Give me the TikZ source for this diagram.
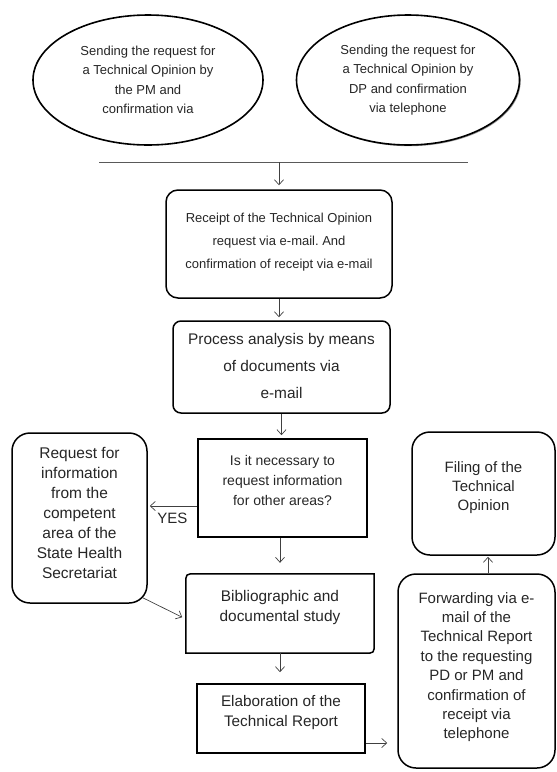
\documentclass[tikz,border=0pt]{standalone}
\usepackage{fontspec}
\setmainfont{Liberation Sans}
\usetikzlibrary{arrows.meta,shapes.geometric,shadows}

\begin{document}
\begin{tikzpicture}[x=1pt,y=-1pt,
    fs/.style 2 args={font=\fontsize{#1}{#2}\selectfont},
    wh/.style 2 args={minimum width=#1,minimum height=#2},
    oval/.style={ellipse,draw,line width=1.6pt,fill=white,inner sep=0pt,align=center,text=black!85,fs={13}{19.5}},
    rbox/.style={rectangle,draw,line width=1.5pt,rounded corners=#1,inner sep=0pt,align=center,text=black!85},
    sbox/.style={rectangle,draw,line width=1.6pt,inner sep=0pt,align=center,text=black!85},
    flow/.style={draw=black!75,line width=0.7pt,-{Straight Barb[length=5pt,width=9pt]}}]
\useasboundingbox (0,0) rectangle (557,772);
\node[oval,wh={230pt}{130pt}] (pmreq) at (148,80) {Sending the request for\\a Technical Opinion by\\the PM and\\confirmation via};
\node[oval,wh={223pt}{130pt},drop shadow={shadow xshift=1.2pt,shadow yshift=-1.2pt,fill=black!80}] (dpreq) at (408,80) {Sending the request for\\a Technical Opinion by\\DP and confirmation\\via telephone};
\coordinate (barW) at (99,162);
\coordinate (barE) at (468,162);
\coordinate (barM) at (279,162);
\draw[black!65,line width=0.8pt] (barW) -- (barE);
\node[rbox=12pt,fs={13}{23},wh={226pt}{108pt},text depth=6.6pt] (receipt) at (279,244) {Receipt of the Technical Opinion\\request via e-mail.\ And\\confirmation of receipt via e-mail};
\node[rbox=8pt,fs={15.4}{27},wh={217pt}{92pt},text depth=3pt] (process) at (281.5,367) {Process analysis by means\\of documents via\\e-mail};
\node[sbox,fs={14}{20},wh={169pt}{98pt},text depth=14.8pt] (necessary) at (282.5,488) {Is it necessary to\\request information\\for other areas?};
\node[rbox=18pt,fs={15.5}{20},wh={135pt}{170pt},text depth=11pt] (request) at (79.5,518) {Request for\\information\\from the\\competent\\area of the\\State Health\\Secretariat};
\node[rectangle,inner sep=0pt,align=center,text=black!85,fs={15.4}{20},wh={188pt}{79pt},text depth=16pt] (biblio) at (280,613.5) {Bibliographic and\\documental study};
\draw[line width=1.5pt] (biblio.north east) -- ([xshift=10pt]biblio.north west) .. controls (biblio.north west) .. ([yshift=-10pt]biblio.north west) -- (biblio.south west) -- ([xshift=-10pt]biblio.south east) .. controls (biblio.south east) .. ([yshift=10pt]biblio.south east) -- cycle;
\node[sbox,fs={15.3}{20},wh={168pt}{69pt},text depth=16pt] (report) at (281,718.5) {Elaboration of the\\Technical Report};
\node[rbox=18pt,fs={15}{19},wh={143pt}{123pt},text depth=14pt] (filing) at (483.5,493.5) {Filing of the\\Technical\\Opinion};
\node[rbox=18pt,fs={15}{19.4},wh={157pt}{194pt},text depth=11pt] (forward) at (476.5,671) {Forwarding via e-\\mail of the\\Technical Report\\to the requesting\\PD or PM and\\confirmation of\\receipt via\\telephone};
\draw[flow,shorten >=4pt] (barM) -- (receipt.north);
\draw[flow,shorten >=3pt] (receipt.south) -- (receipt.south |- process.north);
\draw[flow,shorten >=3pt] (process.south) -- (process.south |- necessary.north);
\draw[flow,shorten >=2pt] ([yshift=-18pt]necessary.west) -- ([yshift=-18pt]necessary.west -| request.east) node[midway,below=3pt,fs={15}{18},text=black!85]{YES};
\draw[flow,shorten >=11pt] (necessary.south -| biblio.north) -- (biblio.north);
\draw[flow,shorten >=4pt] ([xshift=-5pt,yshift=6pt]request.south east) -- ([yshift=-5.5pt]biblio.west);
\draw[flow,shorten >=11pt] (biblio.south) -- (biblio.south |- report.north);
\draw[flow,shorten >=10pt] ([yshift=-24.5pt]report.east) -- ([yshift=-24.5pt]report.east -| forward.west);
\draw[flow,shorten >=1pt] ([xshift=4.5pt]filing.south |- forward.north) -- ([xshift=4.5pt]filing.south);
\end{tikzpicture}
\end{document}
